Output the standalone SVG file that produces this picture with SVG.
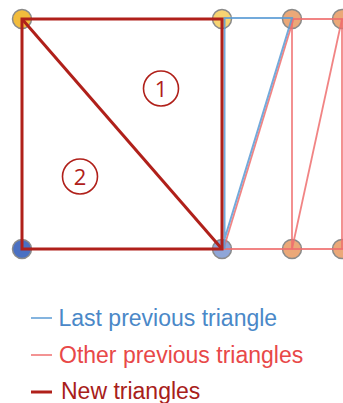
<svg xmlns="http://www.w3.org/2000/svg" width="343" height="403" viewBox="0 0 343 403">
<style>
.node{stroke:#8a8a8a;stroke-width:1.5}
.old{stroke:#ef6f6f;stroke-width:1.8;fill:none;stroke-opacity:0.85}
.last{stroke:#5b9bd5;stroke-width:2;fill:none;stroke-opacity:0.85}
.new{stroke:#b0201a;stroke-width:3;fill:none;stroke-linejoin:miter}
.lbl{font-family:"Liberation Sans",Arial,sans-serif;font-size:23px}
.num{font-family:"Open Sans","Liberation Sans",sans-serif;font-size:22px;fill:#b0201a;text-anchor:middle}
.ring{fill:none;stroke:#b0201a;stroke-width:1.6}
</style>
<rect width="343" height="403" fill="#ffffff"/>
<g id="nodes">
<g id="n-tl"><circle class="node" cx="22" cy="19" r="9.5" fill="#f2bc3c"/></g>
<g id="n-t2"><circle class="node" cx="222" cy="19" r="9.5" fill="#f7d472"/></g>
<g id="n-t3"><circle class="node" cx="292" cy="19" r="9.5" fill="#eba878"/></g>
<g id="n-t4"><circle class="node" cx="342" cy="19" r="9.5" fill="#eba878"/></g>
<g id="n-bl"><circle class="node" cx="22" cy="249" r="9.5" fill="#4a70c2"/></g>
<g id="n-b2"><circle class="node" cx="222" cy="249" r="9.5" fill="#8fa6d8"/></g>
<g id="n-b3"><circle class="node" cx="292" cy="249" r="9.5" fill="#eba878"/></g>
<g id="n-b4"><circle class="node" cx="342" cy="249" r="9.5" fill="#eba878"/></g>
</g>
<g id="connectors">
<line class="old" x1="292" y1="19" x2="343" y2="19"/>
<line class="old" x1="222" y1="249" x2="343" y2="249"/>
<line class="old" x1="292" y1="19" x2="292" y2="249"/>
<line class="old" x1="342" y1="19" x2="342" y2="249"/>
<line class="old" x1="292" y1="249" x2="342" y2="19"/>
<line class="old" x1="293.5" y1="19" x2="223.5" y2="249"/>
<polyline class="last" points="224.5,249 224.5,18 292,18 221.5,249"/>
<polygon class="new" points="22,19 222,19 222,249 22,249"/>
<line class="new" x1="22" y1="19" x2="222" y2="249"/>
</g>
<g id="label-1"><circle class="ring" cx="161" cy="88.5" r="17.5"/><text class="num" x="161" y="96.5">1</text></g>
<g id="label-2"><circle class="ring" cx="80" cy="176.5" r="17.5"/><text class="num" x="80" y="184.5">2</text></g>
<g id="legend">
<line x1="31" y1="318" x2="52" y2="318" stroke="#5b9bd5" stroke-width="1.5"/>
<text class="lbl" x="58.5" y="326" fill="#4a88c8">Last previous triangle</text>
<line x1="31" y1="355" x2="52" y2="355" stroke="#ef6f6f" stroke-width="1.5"/>
<text class="lbl" x="59" y="363" fill="#e84848">Other previous triangles</text>
<line x1="31" y1="392" x2="52" y2="392" stroke="#b0201a" stroke-width="3"/>
<text class="lbl" x="61" y="399" fill="#a8201a">New triangles</text>
</g>
</svg>
